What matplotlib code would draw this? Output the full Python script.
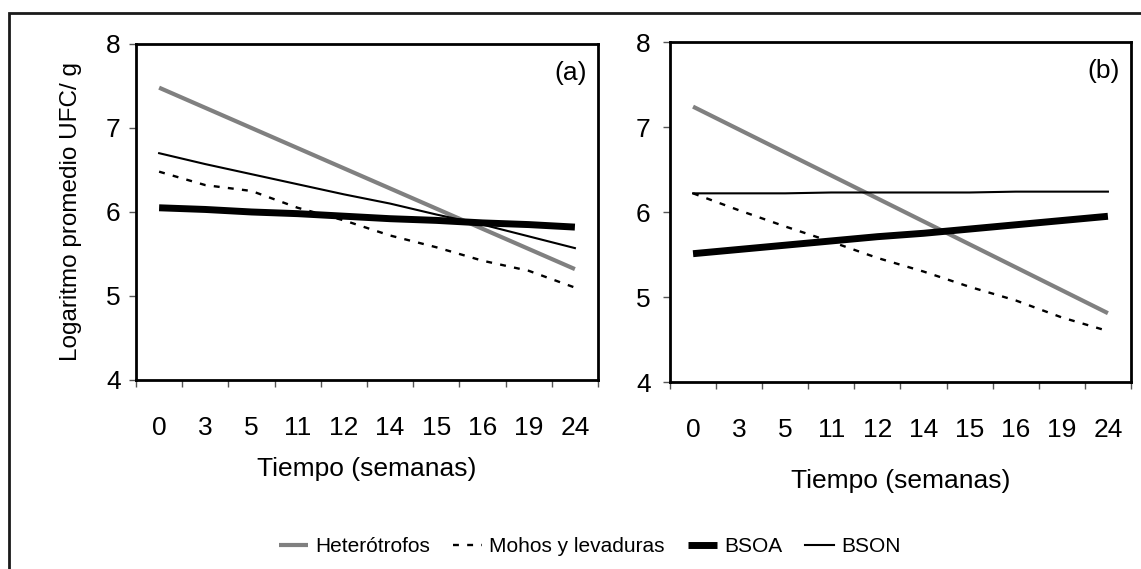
import matplotlib
matplotlib.use("Agg")
import matplotlib.pyplot as plt
from matplotlib.patches import Rectangle

plt.rcParams["font.family"] = ["Liberation Sans", "DejaVu Sans"]

weeks = ["0", "3", "5", "11", "12", "14", "15", "16", "19", "24"]
series_names = ["Heterótrofos", "Mohos y levaduras", "BSOA", "BSON"]

# panel (a)
het_a = [7.48, 7.24, 7.00, 6.76, 6.52, 6.28, 6.04, 5.80, 5.56, 5.32]
mohos_a = [6.48, 6.32, 6.25, 6.05, 5.90, 5.72, 5.58, 5.42, 5.30, 5.10]
bsoa_a = [6.05, 6.03, 6.00, 5.98, 5.95, 5.92, 5.90, 5.87, 5.85, 5.82]
bson_a = [6.70, 6.57, 6.45, 6.33, 6.21, 6.10, 5.97, 5.85, 5.71, 5.57]

# panel (b)
het_b = [7.24, 6.97, 6.70, 6.43, 6.16, 5.89, 5.62, 5.35, 5.08, 4.81]
mohos_b = [6.22, 6.02, 5.83, 5.65, 5.46, 5.30, 5.12, 4.96, 4.76, 4.60]
bsoa_b = [5.51, 5.56, 5.61, 5.66, 5.71, 5.75, 5.80, 5.85, 5.90, 5.95]
bson_b = [6.22, 6.22, 6.22, 6.23, 6.23, 6.23, 6.23, 6.24, 6.24, 6.24]

styles = [
    dict(color="#808080", lw=3.0, ls="-", solid_capstyle="butt"),
    dict(color="black", lw=1.7, ls=(0, (2.5, 3.5))),
    dict(color="black", lw=5.0, ls="-", solid_capstyle="butt"),
    dict(color="black", lw=1.5, ls="-"),
]

fig = plt.figure(figsize=(11.41, 5.69), dpi=100)
fig.patches.append(Rectangle((0.0079, -0.05), 1.1, 0.9772 + 0.05,
                             transform=fig.transFigure, fill=False,
                             edgecolor="#1a1a1a", lw=2.0, clip_on=False))

ax_a = fig.add_axes([0.1192, 0.3322, 0.4049, 0.5905])
ax_b = fig.add_axes([0.5872, 0.3286, 0.4040, 0.5975])

panels = [
    (ax_a, [het_a, mohos_a, bsoa_a, bson_a], "(a)", 12),
    (ax_b, [het_b, mohos_b, bsoa_b, bson_b], "(b)", 19),
]

x = list(range(len(weeks)))
handles = []
for ax, data, tag, xlpad in panels:
    lines = []
    for name, vals, st in zip(series_names, data, styles):
        ln, = ax.plot(x, vals, label=name, **st)
        lines.append(ln)
    handles = lines
    ax.set_xlim(-0.5, len(weeks) - 0.5)
    ax.set_ylim(4, 8)
    ax.set_yticks([4, 5, 6, 7, 8])
    ax.set_xticks(x)
    ax.set_xticklabels(weeks)
    ax.set_xticks([i - 0.5 for i in range(len(weeks) + 1)], minor=True)
    ax.tick_params(axis="x", which="major", length=0, pad=26, labelsize=19)
    ax.tick_params(axis="x", which="minor", length=5, width=1, color="#555555",
                   direction="out")
    ax.tick_params(axis="y", length=5, width=1, color="#555555",
                   direction="out", labelsize=19, pad=6)
    for sp in ax.spines.values():
        sp.set_linewidth(2.0)
    ax.set_xlabel("Tiempo (semanas)", fontsize=19, labelpad=xlpad)
    ax.text(0.975, 0.915, tag, transform=ax.transAxes, ha="right", va="center",
            fontsize=19)

ax_b.tick_params(axis="y", pad=9)
ax_a.set_ylabel("Logaritmo promedio UFC/ g", fontsize=17.5, labelpad=17)

fig.legend(handles=handles, labels=series_names, loc="center",
           bbox_to_anchor=(0.517, 0.039), ncol=4, frameon=False,
           fontsize=15, handlelength=1.4, handletextpad=0.35,
           columnspacing=1.1)

fig.savefig("out.png", dpi=100)
